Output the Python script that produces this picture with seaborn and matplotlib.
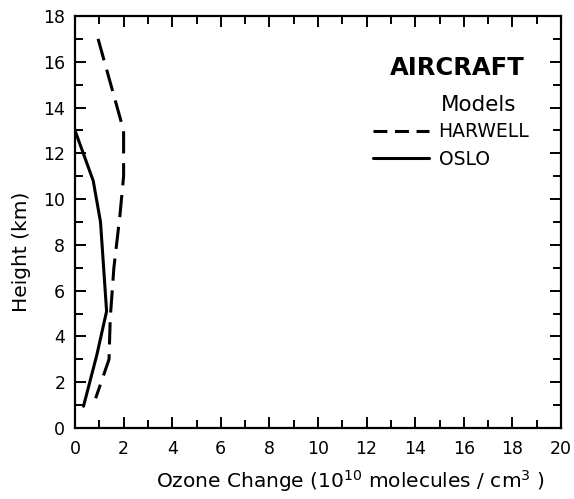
import matplotlib
matplotlib.use("Agg")
import matplotlib.pyplot as plt
import seaborn as sns
import pandas as pd
from matplotlib.lines import Line2D
from matplotlib.ticker import MultipleLocator

# ---- data ----
harwell_ozone = [0.95, 2.0, 2.0, 1.85, 1.6, 1.45, 1.4, 0.85]
harwell_height = [17.0, 13.0, 11.0, 9.3, 7.0, 4.8, 3.0, 1.3]
oslo_ozone = [0.0, 0.75, 1.05, 1.3, 0.9, 0.35]
oslo_height = [13.0, 10.8, 9.0, 5.1, 3.2, 0.95]
x_ticks = list(range(0, 21, 2))
y_ticks = list(range(0, 19, 2))
series_labels = ["HARWELL", "OSLO"]

sns.set_style("ticks")
plt.rcParams['font.family'] = ['DejaVu Sans']
plt.rcParams['mathtext.default'] = 'regular'
plt.rcParams['lines.scale_dashes'] = False
plt.rcParams['text.color'] = 'black'
plt.rcParams['axes.labelcolor'] = 'black'
plt.rcParams['xtick.color'] = 'black'
plt.rcParams['ytick.color'] = 'black'

fig = plt.figure(figsize=(5.74, 4.99), dpi=100)
ax = fig.add_axes([75/574, 71/499, 486/574, 412/499])

df_h = pd.DataFrame({"ozone": harwell_ozone, "height": harwell_height})
df_o = pd.DataFrame({"ozone": oslo_ozone, "height": oslo_height})

sns.lineplot(data=df_h, x="ozone", y="height", sort=False, estimator=None,
             color="black", lw=2.2, ax=ax)
ax.lines[-1].set_dashes((16, 7))
sns.lineplot(data=df_o, x="ozone", y="height", sort=False, estimator=None,
             color="black", lw=2.2, ax=ax)

ax.set_xlim(0, 20)
ax.set_ylim(0, 18)
ax.set_xticks(x_ticks)
ax.set_yticks(y_ticks)
ax.xaxis.set_minor_locator(MultipleLocator(1))
ax.yaxis.set_minor_locator(MultipleLocator(1))
ax.tick_params(which='both', direction='in', top=True, right=True,
               width=1.4, colors='black', labelsize=12.5)
ax.tick_params(which='major', length=8, pad=7)
ax.tick_params(axis='x', which='major', pad=9)
ax.tick_params(which='minor', length=5.5)
for s in ax.spines.values():
    s.set_linewidth(1.6)
    s.set_color('black')

ax.set_xlabel(r"Ozone Change (10$^{10}$ molecules / cm$^{3}$ )", fontsize=14.5, labelpad=7)
ax.set_ylabel("Height (km)", fontsize=14.5, labelpad=9)
ax.xaxis.label.set_x(0.566)
ax.yaxis.label.set_y(0.427)

ax.text(0.786, 0.874, "AIRCRAFT", transform=ax.transAxes, ha='center', va='center',
        fontsize=17.5, fontweight='bold')
ax.text(0.831, 0.784, "Models", transform=ax.transAxes, ha='center', va='center',
        fontsize=15.5)

handles = [Line2D([], [], color='black', lw=2.2, dashes=(10, 5.5)),
           Line2D([], [], color='black', lw=2.2)]
ax.legend(handles, series_labels, loc='upper left', bbox_to_anchor=(0.613, 0.742),
          frameon=False, fontsize=13.5, handlelength=3.0, handletextpad=0.5,
          labelspacing=0.45, borderpad=0, borderaxespad=0)

fig.savefig("out.png", dpi=100)
